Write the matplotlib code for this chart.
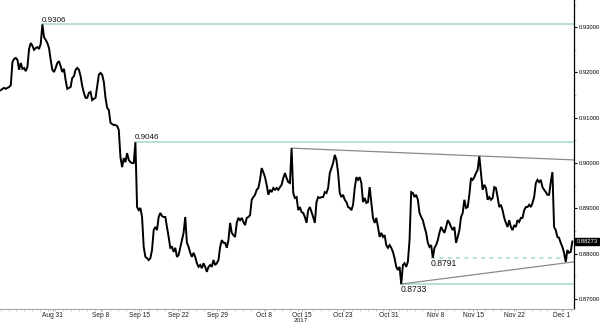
import matplotlib
matplotlib.use("Agg")
import matplotlib.pyplot as plt
import matplotlib.transforms as mtransforms
from matplotlib.ticker import MultipleLocator, FixedLocator
import numpy as np

plt.rcParams['font.family'] = ['Liberation Sans', 'DejaVu Sans']

# EUR/GBP prices (in pips above 0.8700 -> converted below), one point per bar
pips = [
    9161, 9164, 9166, 9164, 9166, 9168, 9172, 9223, 9230, 9232,
    9228, 9206, 9221, 9208, 9210, 9203, 9212, 9252, 9265, 9259,
    9250, 9254, 9256, 9252, 9263, 9306, 9278, 9272, 9265, 9254,
    9228, 9206, 9201, 9210, 9221, 9225, 9214, 9201, 9208, 9183,
    9164, 9166, 9168, 9188, 9192, 9206, 9210, 9206, 9192, 9170,
    9155, 9144, 9144, 9155, 9157, 9139, 9142, 9144, 9170, 9195,
    9199, 9195, 9179, 9144, 9122, 9117,
    9089, 9086, 9084, 9084, 9082, 9073, 9013, 8991, 9011, 9002,
    9022, 9007, 9002, 9000, 9000, 9046, 8903, 8896, 8901, 8881,
    8815, 8793, 8790, 8786, 8790, 8808, 8852, 8859, 8852, 8881,
    8890, 8883, 8881, 8881, 8859, 8837, 8813, 8815, 8804, 8813,
    8793, 8797, 8813, 8830, 8846, 8881, 8824, 8815, 8802, 8793,
    8802, 8793, 8779, 8771, 8775, 8768, 8779, 8771, 8760, 8771,
    8775, 8771, 8786, 8775, 8779, 8786, 8815, 8830, 8824,
    8824, 8813, 8830, 8868, 8846, 8841, 8837, 8868, 8879, 8874,
    8879, 8870, 8863, 8879, 8881, 8885, 8919, 8925, 8930, 8941,
    8945, 8963, 8989, 8980, 8969, 8952, 8930, 8941, 8936, 8945,
    8941, 8945, 8941, 8947, 8952, 8967, 8978, 8967, 8958, 8956,
    9033, 8934, 8923, 8925, 8896, 8903, 8892, 8890, 8881, 8868,
    8896, 8903, 8892, 8881, 8868, 8914, 8925, 8923, 8925, 8925,
    8936, 8934, 8945, 8978, 8989, 9000, 9018, 9007, 8978,
    8934, 8925, 8930, 8919, 8914, 8903, 8901, 8896, 8908, 8945,
    8969, 8963, 8969, 8956, 8914, 8923, 8912, 8914, 8947, 8912,
    8879, 8868, 8879, 8859, 8837, 8846, 8837, 8841, 8819, 8813,
    8819, 8813, 8804, 8790, 8771, 8764, 8771, 8733, 8775, 8779,
    8771, 8782, 8830, 8936, 8934, 8925, 8930, 8919, 8890, 8881,
    8874, 8859, 8846, 8824, 8815, 8819, 8791, 8813, 8819, 8830,
    8846, 8859, 8852, 8846, 8859, 8874, 8868, 8859, 8852,
    8859, 8824, 8837, 8852, 8881, 8890, 8919, 8901, 8903, 8930,
    8967, 8963, 8969, 8978, 8985, 9015, 8978, 8941, 8952, 8945,
    8919, 8925, 8919, 8923, 8947, 8945, 8925, 8903, 8908, 8896,
    8879, 8868, 8859, 8874, 8859, 8852, 8863, 8859, 8874, 8870,
    8879, 8879, 8896, 8903, 8903, 8908, 8903, 8912, 8925, 8956,
    8963, 8958, 8963, 8947, 8941, 8936, 8930, 8930, 8958, 8980,
    8859, 8852, 8837, 8835, 8824, 8815, 8802, 8782, 8808, 8802,
    8804, 8827,
]
prices = [0.87 + (p - 8700) / 10000 for p in pips]

# x-axis labels (bar positions) and texts
tick_labels = ["Aug 31", "Sep 8", "Sep 15", "Sep 22", "Sep 29", "Oct 8", "Oct 15",
               "Oct 23", "Oct 31", "Nov 8", "Nov 15", "Nov 22", "Dec 1"]
tick_bars = [31.2, 60, 83.4, 106.8, 130.2, 158.4, 181.2, 205.8, 233.4, 261.6, 284.4, 309, 337.8]

# key levels: (value, bar where it starts, dashed?)
level_values = [0.9306, 0.9046, 0.8733, 0.8791]
level_start = [25, 81, 241, 259]
level_dashed = [False, False, False, True]
level_label_above = [True, True, False, False]

# triangle trendlines: (bar0, value0, bar1, value1)
upper_trend = [175, 0.9033, 345, 0.9007]
lower_trend = [241, 0.8733, 345, 0.8782]

last_price = 0.88273

fig = plt.figure(figsize=(6.0, 3.23), dpi=100)
ax = fig.add_axes([0.0, 0.0433, 0.9567, 0.9567])

x = np.arange(len(prices))
ax.plot(x, prices, color="black", lw=1.4, solid_joinstyle="miter", zorder=3)

xmax = 345
teal = "#a9ddd2"
for v, s, d, above in zip(level_values, level_start, level_dashed, level_label_above):
    ax.plot([s, xmax], [v, v], color=teal, lw=1.2,
            ls=(0, (2.5, 2.5)) if d else "-", zorder=2)
    if above:
        ax.text(s - 0.5, v + 0.0002, f"{v:.4f}", fontsize=5.8, ha="left", va="bottom", color="#111")
    else:
        ax.text(s - 0.5, v - 0.0003, f"{v:.4f}", fontsize=6.2, ha="left", va="top", color="#111")

for t in (upper_trend, lower_trend):
    ax.plot([t[0], t[2]], [t[1], t[3]], color="#8a8a8a", lw=0.9, zorder=2)

ax.set_xlim(-0.5, xmax)
ax.set_ylim(0.86779, 0.93600)

for s in ["left", "top"]:
    ax.spines[s].set_visible(False)
ax.spines["right"].set_color("black")
ax.spines["right"].set_linewidth(0.9)
ax.spines["bottom"].set_color("#aaaaaa")
ax.spines["bottom"].set_linewidth(0.8)

ax.yaxis.tick_right()
ax.yaxis.set_major_locator(MultipleLocator(0.01))
ax.yaxis.set_minor_locator(MultipleLocator(0.005))
ax.yaxis.set_major_formatter(matplotlib.ticker.FuncFormatter(lambda v, p: f"{v:.5f}"))
ax.tick_params(axis="y", which="major", labelsize=4.2, length=2.5, width=0.8, pad=0.6, colors="black")
ax.tick_params(axis="y", which="minor", length=1.5, width=0.5, colors="#999999")

ax.xaxis.set_major_locator(FixedLocator(tick_bars))
ax.set_xticklabels(tick_labels)
ax.xaxis.set_minor_locator(MultipleLocator(4.7))
ax.tick_params(axis="x", which="major", labelsize=4.8, length=1.5, width=0.6, pad=0.6, colors="#888888", labelcolor="#222222")
ax.tick_params(axis="x", which="minor", length=1.2, width=0.5, colors="#aaaaaa")

ax.text(180.5, -0.036, "2017", transform=mtransforms.blended_transform_factory(ax.transData, ax.transAxes),
        fontsize=4.6, ha="center", va="center", color="#222222", clip_on=False)

# last price tag
trans = mtransforms.blended_transform_factory(ax.transAxes, ax.transData)
ax.text(1.004, last_price, f"{last_price:.5f}", transform=trans, fontsize=4.2, color="white",
        ha="left", va="center", clip_on=False,
        bbox=dict(boxstyle="square,pad=0.2", fc="black", ec="black"))

fig.savefig("out.png", dpi=100)
